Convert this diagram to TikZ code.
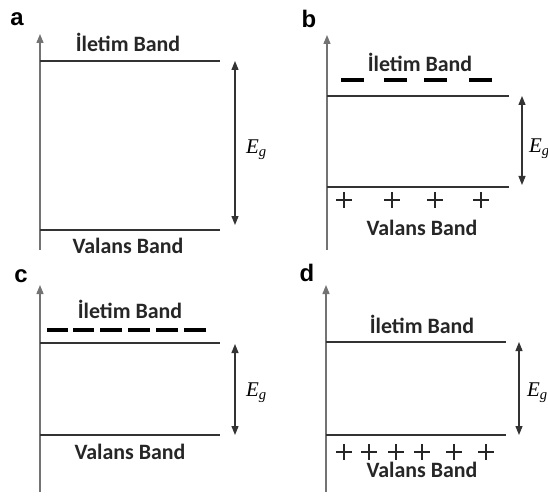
\documentclass[tikz,border=0pt]{standalone}
\usepackage{fontspec}
\setmainfont{Carlito}
\newfontfamily\panelfont{Liberation Sans}
\newfontfamily\egfont{Liberation Serif}
\usetikzlibrary{arrows.meta}
\tikzset{
  axisline/.style={draw=black!55, line width=1.3bp, -{Triangle[width=7bp,length=9bp]}},
  bandline/.style={draw=black!80, line width=1.3bp},
  gaparrow/.style={draw=black!80, line width=1.2bp, {Triangle[width=7bp,length=9bp]}-{Triangle[width=7bp,length=9bp]}},
  bandtext/.style={font=\fontsize{22}{24}\selectfont\bfseries, text=black!85, inner sep=0pt},
  paneltext/.style={font=\panelfont\fontsize{24}{26}\selectfont\bfseries, inner sep=0pt},
  egtext/.style={font=\egfont\fontsize{21}{23}\selectfont, inner sep=0pt, anchor=west},
  electron/.style={line width=4.5bp, draw=black},
  hole/.style={line width=1.1bp, draw=black!85},
}
% a plus sign (hole) centred at #1
\newcommand{\holeat}[2]{\draw[hole] (#1-8,#2) -- (#1+8,#2) (#1,#2-8) -- (#1,#2+8);}
% an electron dash from #1 to #2 at height #3
\newcommand{\dashat}[3]{\draw[electron] (#1,#3) -- (#2,#3);}
\begin{document}
\begin{tikzpicture}[x=1bp,y=-1bp]
\useasboundingbox (0,0) rectangle (548,503);

% ---------- panel a ----------
\node[paneltext] (la) at (17,19) {a};
\coordinate (a0) at (40,250);
\coordinate (a1) at (40,34);
\draw[axisline] (a0) -- (a1);
\coordinate (acl) at (40,61);  \coordinate (acr) at (220,61);
\coordinate (avl) at (40,230); \coordinate (avr) at (220,230);
\draw[bandline] (acl) -- (acr);
\draw[bandline] (avl) -- (avr);
\coordinate (ag1) at (235,61); \coordinate (ag2) at (235,225);
\draw[gaparrow] (ag1) -- (ag2);
\node[egtext] (aeg) at (246,150) {\textit{E}\textsubscript{\textit{g}}};
\node[bandtext] (ac) at (128,42) {İletim Band};
\node[bandtext] (av) at (128,246) {Valans Band};

% ---------- panel b ----------
\node[paneltext] (lb) at (309,19) {b};
\coordinate (b0) at (327,250);
\coordinate (b1) at (327,35);
\draw[axisline] (b0) -- (b1);
\coordinate (bcl) at (327,96);  \coordinate (bcr) at (509,96);
\coordinate (bvl) at (327,187); \coordinate (bvr) at (509,187);
\draw[bandline] (bcl) -- (bcr);
\draw[bandline] (bvl) -- (bvr);
\coordinate (bg1) at (522,96); \coordinate (bg2) at (522,185);
\draw[gaparrow] (bg1) -- (bg2);
\node[egtext] (beg) at (529,149) {\textit{E}\textsubscript{\textit{g}}};
\node[bandtext] (bc) at (420,62) {İletim Band};
\node[bandtext] (bv) at (422,228) {Valans Band};
\dashat{341}{364}{80}
\dashat{384}{407}{80}
\dashat{424}{447}{80}
\dashat{469}{492}{80}
\holeat{344}{200}
\holeat{392}{200}
\holeat{435}{200}
\holeat{481}{200}

% ---------- panel c ----------
\node[paneltext] (lc) at (21,276) {c};
\coordinate (c0) at (40,492);
\coordinate (c1) at (40,285);
\draw[axisline] (c0) -- (c1);
\coordinate (ccl) at (40,343);  \coordinate (ccr) at (220,343);
\coordinate (cvl) at (40,435); \coordinate (cvr) at (220,435);
\draw[bandline] (ccl) -- (ccr);
\draw[bandline] (cvl) -- (cvr);
\coordinate (cg1) at (235,344); \coordinate (cg2) at (235,435);
\draw[gaparrow] (cg1) -- (cg2);
\node[egtext] (ceg) at (246,393) {\textit{E}\textsubscript{\textit{g}}};
\node[bandtext] (cc) at (130,309) {İletim Band};
\node[bandtext] (cv) at (130,452) {Valans Band};
\dashat{47}{68}{330}
\dashat{73}{94}{330}
\dashat{100}{122}{330}
\dashat{128}{150}{330}
\dashat{156}{178}{330}
\dashat{184}{206}{330}

% ---------- panel d ----------
\node[paneltext] (ld) at (307,273) {d};
\coordinate (d0) at (326,492);
\coordinate (d1) at (326,285);
\draw[axisline] (d0) -- (d1);
\coordinate (dcl) at (326,342);  \coordinate (dcr) at (506,342);
\coordinate (dvl) at (326,435); \coordinate (dvr) at (506,435);
\draw[bandline] (dcl) -- (dcr);
\draw[bandline] (dvl) -- (dvr);
\coordinate (dg1) at (519,342); \coordinate (dg2) at (519,435);
\draw[gaparrow] (dg1) -- (dg2);
\node[egtext] (deg) at (527,393) {\textit{E}\textsubscript{\textit{g}}};
\node[bandtext] (dc) at (422,324) {İletim Band};
\node[bandtext] (dv) at (422,470) {Valans Band};
\holeat{344}{452}
\holeat{369}{452}
\holeat{396}{452}
\holeat{422}{452}
\holeat{454}{452}
\holeat{486}{452}
\end{tikzpicture}
\end{document}
